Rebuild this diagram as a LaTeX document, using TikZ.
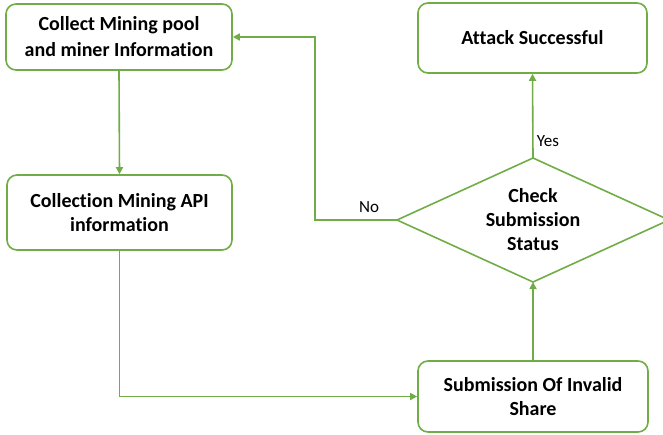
\documentclass[tikz,border=0pt]{standalone}
\usepackage{fontspec}
\setmainfont{Carlito}[Ligatures=NoCommon]
\usetikzlibrary{arrows.meta}
\definecolor{grn}{HTML}{70AD47}
\begin{document}
\begin{tikzpicture}[x=1pt,y=-1pt,
  box/.style={draw=grn,line width=1.6pt,rounded corners=10pt,align=center,
    font=\fontsize{20}{26}\selectfont\bfseries,inner sep=0pt},
  conn/.style={draw=grn,line width=1.6pt,-{Triangle[length=7pt,width=7pt]}},
  lbl/.style={font=\fontsize{17}{20}\selectfont,inner sep=1pt}]
\useasboundingbox (0,0) rectangle (663,434);
\node[box,minimum width=226pt,minimum height=66pt] (b1) at (119,37) {Collect Mining pool\\and miner Information};
\node[box,minimum width=225pt,minimum height=75pt,font=\fontsize{20}{24}\selectfont\bfseries] (b2) at (119.5,212.5) {Collection Mining API\\information};
\node[box,minimum width=229pt,minimum height=70pt] (att) at (532.5,38) {Attack Successful};
\node[box,minimum width=230pt,minimum height=71pt,font=\fontsize{20}{24}\selectfont\bfseries] (sub) at (533,396.5) {Submission Of Invalid\\Share};
\coordinate (dc) at (533,220);
\coordinate (dt) at (533,158);
\coordinate (db) at (533,282);
\coordinate (dl) at (397,220);
\coordinate (dr) at (669,220);
\draw[grn,line width=1.6pt] (dt) -- (dr) -- (db) -- (dl) -- cycle;
\node[align=center,font=\fontsize{20}{24}\selectfont\bfseries] (chk) at (dc) {Check\\Submission\\Status};
\draw[conn] (b1.south) -- (b2.north);
\draw[conn] (b2.south) |- (sub.west);
\draw[conn] (sub.north) -- (db);
\draw[conn] (dt) -- (att.south);
\coordinate (nocorner) at (315,220);
\draw[conn] (dl) -- (nocorner) |- (b1.east);
\node[lbl] (no) at (369,207) {No};
\node[lbl] (yes) at (548,141) {Yes};
\end{tikzpicture}
\end{document}
